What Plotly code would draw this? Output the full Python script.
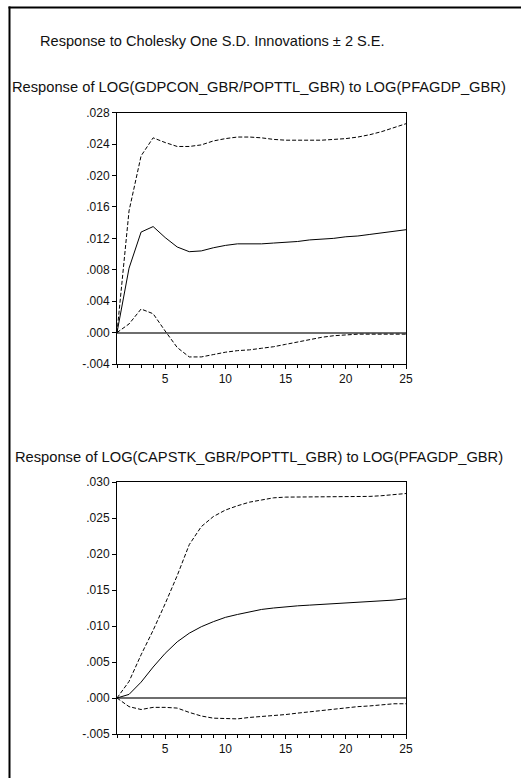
import plotly.graph_objects as go

# Impulse-response horizon
periods = list(range(1, 26))

# Response of LOG(GDPCON_GBR/POPTTL_GBR) to LOG(PFAGDP_GBR)
gdp_resp = [0.0, 0.0082, 0.0128, 0.0135, 0.0121, 0.0109, 0.0103, 0.0104, 0.0108, 0.0111,
            0.0113, 0.0113, 0.0113, 0.0114, 0.0115, 0.0116, 0.0118, 0.0119, 0.0120, 0.0122,
            0.0123, 0.0125, 0.0127, 0.0129, 0.0131]
gdp_upper = [0.0, 0.0155, 0.0225, 0.0248, 0.0242, 0.0237, 0.0237, 0.0239, 0.0244, 0.0247,
             0.0249, 0.0249, 0.0248, 0.0246, 0.0245, 0.0245, 0.0245, 0.0245, 0.0246, 0.0247,
             0.0249, 0.0252, 0.0256, 0.0261, 0.0266]
gdp_lower = [0.0, 0.0011, 0.0030, 0.0024, 0.0002, -0.0019, -0.0031, -0.0031, -0.0028, -0.0025,
             -0.0023, -0.0022, -0.0020, -0.0018, -0.0015, -0.0012, -0.0009, -0.0006, -0.0004, -0.0003,
             -0.0002, -0.0002, -0.0002, -0.0002, -0.0002]

# Response of LOG(CAPSTK_GBR/POPTTL_GBR) to LOG(PFAGDP_GBR)
cap_resp = [0.0, 0.0005, 0.0022, 0.0043, 0.0062, 0.0078, 0.0090, 0.0099, 0.0106, 0.0112,
            0.0116, 0.0120, 0.0123, 0.0125, 0.0127, 0.0128, 0.0129, 0.0130, 0.0130, 0.0131,
            0.0132, 0.0133, 0.0135, 0.0136, 0.0138]
cap_upper = [0.0, 0.0023, 0.0060, 0.0094, 0.0131, 0.0170, 0.0213, 0.0238, 0.0252, 0.0261,
             0.0267, 0.0272, 0.0275, 0.0278, 0.0279, 0.0279, 0.0279, 0.0279, 0.0279, 0.0279,
             0.0279, 0.0280, 0.0281, 0.0282, 0.0284]
cap_lower = [0.0, -0.0012, -0.0016, -0.0013, -0.0013, -0.0014, -0.0020, -0.0025, -0.0028, -0.0029,
             -0.0029, -0.0027, -0.0026, -0.0024, -0.0023, -0.0021, -0.0019, -0.0017, -0.0016, -0.0014,
             -0.0012, -0.0011, -0.0009, -0.0008, -0.0008]

# Axis ticks
x_tick_vals = [5, 10, 15, 20, 25]
gdp_y_ticks = [-0.004, 0.000, 0.004, 0.008, 0.012, 0.016, 0.020, 0.024, 0.028]
cap_y_ticks = [-0.005, 0.000, 0.005, 0.010, 0.015, 0.020, 0.025, 0.030]

main_title = "Response to Cholesky One S.D. Innovations \u00b1 2 S.E."
gdp_title = "Response of LOG(GDPCON_GBR/POPTTL_GBR) to LOG(PFAGDP_GBR)"
cap_title = "Response of LOG(CAPSTK_GBR/POPTTL_GBR) to LOG(PFAGDP_GBR)"

W, H = 521, 778
FONT = "Liberation Sans, Arial, sans-serif"


def px_x(p):
    return p / W


def px_y(p):
    return 1 - p / H


def tick_text(v):
    s = f"{v:.3f}"
    return s.replace("0.", ".", 1)


fig = go.Figure()

for axis_id, resp, upper, lower in [("", gdp_resp, gdp_upper, gdp_lower),
                                    ("2", cap_resp, cap_upper, cap_lower)]:
    xa, ya = "x" + axis_id, "y" + axis_id
    fig.add_trace(go.Scatter(x=periods, y=upper, mode="lines", xaxis=xa, yaxis=ya,
                             line=dict(color="black", width=1, dash="4px,2px"),
                             showlegend=False, hoverinfo="skip"))
    fig.add_trace(go.Scatter(x=periods, y=lower, mode="lines", xaxis=xa, yaxis=ya,
                             line=dict(color="black", width=1, dash="4px,2px"),
                             showlegend=False, hoverinfo="skip"))
    fig.add_trace(go.Scatter(x=periods, y=resp, mode="lines", xaxis=xa, yaxis=ya,
                             line=dict(color="black", width=1),
                             showlegend=False, hoverinfo="skip"))

x_common = dict(range=[1, 25], tickvals=x_tick_vals, ticktext=[str(v) for v in x_tick_vals],
                ticks="outside", ticklen=4, tickcolor="black", tickwidth=1,
                minor=dict(dtick=1, tick0=1, ticks="outside", ticklen=3, tickcolor="black"),
                showline=True, linecolor="black", linewidth=1, mirror=True,
                showgrid=False, zeroline=False, automargin=False,
                tickfont=dict(family=FONT, size=12, color="#111"))
y_common = dict(ticks="outside", ticklen=4, tickcolor="black", tickwidth=1,
                showline=True, linecolor="black", linewidth=1, mirror=True,
                showgrid=False, zeroline=True, zerolinecolor="#6e6e6e", zerolinewidth=1.5,
                automargin=False,
                tickfont=dict(family=FONT, size=12, color="#111"))

fig.update_layout(
    width=W, height=H,
    margin=dict(l=0, r=0, t=0, b=0, pad=0, autoexpand=False),
    paper_bgcolor="white", plot_bgcolor="white",
    xaxis=dict(domain=[px_x(117), px_x(406)], anchor="y", **x_common),
    yaxis=dict(domain=[px_y(364), px_y(112.7)], anchor="x",
               range=[gdp_y_ticks[0], gdp_y_ticks[-1]],
               tickvals=gdp_y_ticks, ticktext=[tick_text(v) for v in gdp_y_ticks], **y_common),
    xaxis2=dict(domain=[px_x(117), px_x(406)], anchor="y2", **x_common),
    yaxis2=dict(domain=[px_y(734), px_y(482)], anchor="x2",
                range=[cap_y_ticks[0], cap_y_ticks[-1]],
                tickvals=cap_y_ticks, ticktext=[tick_text(v) for v in cap_y_ticks], **y_common),
)

annotations = [
    dict(text=main_title, x=px_x(212), y=px_y(41), font=dict(family=FONT, size=14.6)),
    dict(text=gdp_title, x=px_x(259), y=px_y(87), font=dict(family=FONT, size=14.7)),
    dict(text=cap_title, x=px_x(259), y=px_y(457), font=dict(family=FONT, size=14.7)),
]
for a in annotations:
    fig.add_annotation(xref="paper", yref="paper", xanchor="center", yanchor="middle",
                       showarrow=False, font_color="#111", **a)

# Outer frame (left and top edges; the rest lies beyond the page)
fig.add_shape(type="line", xref="paper", yref="paper",
              x0=px_x(9.5), x1=px_x(9.5), y0=0, y1=px_y(6.5),
              line=dict(color="black", width=2))
fig.add_shape(type="line", xref="paper", yref="paper",
              x0=px_x(8.5), x1=1, y0=px_y(7.5), y1=px_y(7.5),
              line=dict(color="black", width=2))

fig.write_html("out.html")
